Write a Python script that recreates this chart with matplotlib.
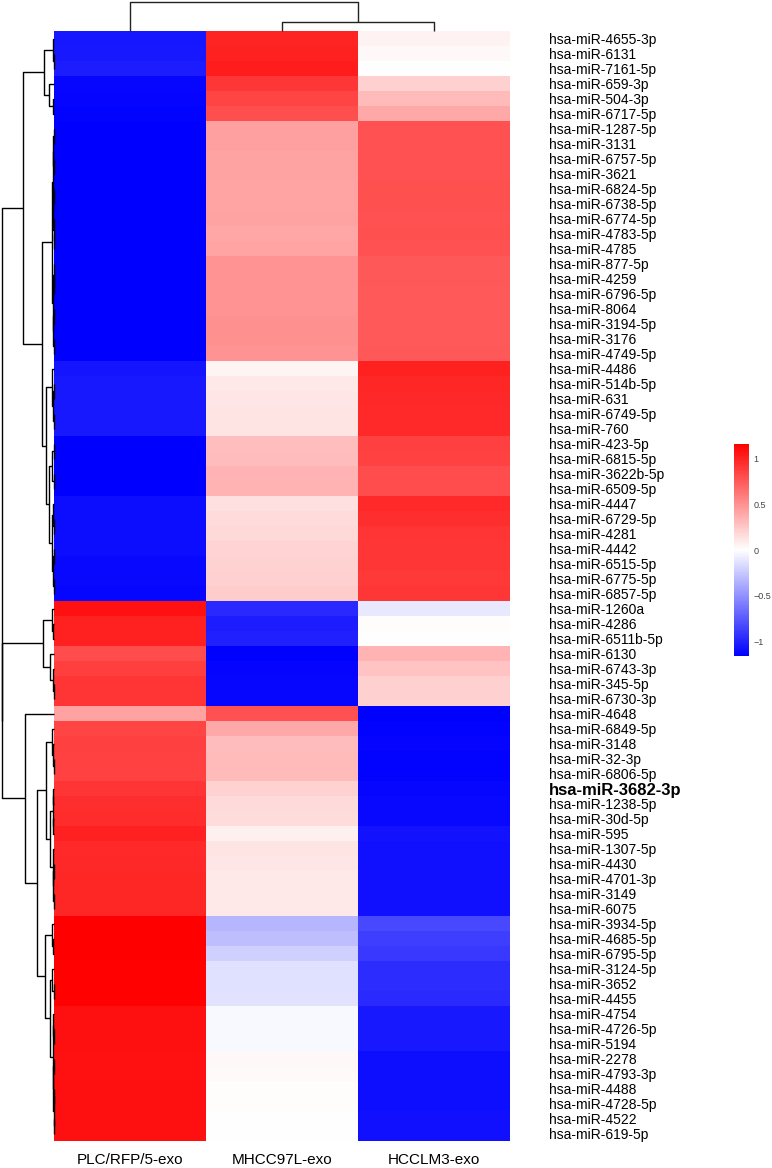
import numpy as np
import matplotlib
matplotlib.use("Agg")
import matplotlib.pyplot as plt
from matplotlib.colors import LinearSegmentedColormap

plt.rcParams['font.family'] = ['Liberation Sans', 'DejaVu Sans']

samples = ["PLC/RFP/5-exo", "MHCC97L-exo", "HCCLM3-exo"]

mirnas = [
    "hsa-miR-4655-3p", "hsa-miR-6131", "hsa-miR-7161-5p", "hsa-miR-659-3p",
    "hsa-miR-504-3p", "hsa-miR-6717-5p", "hsa-miR-1287-5p", "hsa-miR-3131",
    "hsa-miR-6757-5p", "hsa-miR-3621", "hsa-miR-6824-5p", "hsa-miR-6738-5p",
    "hsa-miR-6774-5p", "hsa-miR-4783-5p", "hsa-miR-4785", "hsa-miR-877-5p",
    "hsa-miR-4259", "hsa-miR-6796-5p", "hsa-miR-8064", "hsa-miR-3194-5p",
    "hsa-miR-3176", "hsa-miR-4749-5p", "hsa-miR-4486", "hsa-miR-514b-5p",
    "hsa-miR-631", "hsa-miR-6749-5p", "hsa-miR-760", "hsa-miR-423-5p",
    "hsa-miR-6815-5p", "hsa-miR-3622b-5p", "hsa-miR-6509-5p", "hsa-miR-4447",
    "hsa-miR-6729-5p", "hsa-miR-4281", "hsa-miR-4442", "hsa-miR-6515-5p",
    "hsa-miR-6775-5p", "hsa-miR-6857-5p", "hsa-miR-1260a", "hsa-miR-4286",
    "hsa-miR-6511b-5p", "hsa-miR-6130", "hsa-miR-6743-3p", "hsa-miR-345-5p",
    "hsa-miR-6730-3p", "hsa-miR-4648", "hsa-miR-6849-5p", "hsa-miR-3148",
    "hsa-miR-32-3p", "hsa-miR-6806-5p", "hsa-miR-3682-3p", "hsa-miR-1238-5p",
    "hsa-miR-30d-5p", "hsa-miR-595", "hsa-miR-1307-5p", "hsa-miR-4430",
    "hsa-miR-4701-3p", "hsa-miR-3149", "hsa-miR-6075", "hsa-miR-3934-5p",
    "hsa-miR-4685-5p", "hsa-miR-6795-5p", "hsa-miR-3124-5p", "hsa-miR-3652",
    "hsa-miR-4455", "hsa-miR-4754", "hsa-miR-4726-5p", "hsa-miR-5194",
    "hsa-miR-2278", "hsa-miR-4793-3p", "hsa-miR-4488", "hsa-miR-4728-5p",
    "hsa-miR-4522", "hsa-miR-619-5p",
]
highlight = "hsa-miR-3682-3p"

# row z-scores
plc = [-1.05, -1.04, -1.02, -1.12, -1.13, -1.14, -1.15, -1.15, -1.15, -1.15,
       -1.15, -1.15, -1.15, -1.15, -1.15, -1.15, -1.15, -1.15, -1.15, -1.15,
       -1.15, -1.15, -1.06, -1.04, -1.04, -1.04, -1.04, -1.15, -1.15, -1.15,
       -1.15, -1.10, -1.10, -1.10, -1.10, -1.11, -1.11, -1.12, 1.07, 1.01,
       1.01, 0.81, 0.87, 0.92, 0.92, 0.42, 0.84, 0.86, 0.85, 0.85,
       0.92, 0.94, 0.95, 1.00, 0.96, 0.97, 0.98, 0.98, 0.98, 1.15,
       1.15, 1.15, 1.14, 1.14, 1.14, 1.08, 1.08, 1.08, 1.07, 1.07,
       1.08, 1.08, 1.08, 1.08]
mhcc = [0.99, 1.01, 1.02, 0.91, 0.84, 0.80, 0.43, 0.43, 0.42, 0.42,
        0.41, 0.41, 0.42, 0.40, 0.41, 0.48, 0.48, 0.49, 0.49, 0.50,
        0.50, 0.48, 0.05, 0.10, 0.11, 0.12, 0.12, 0.29, 0.30, 0.34,
        0.34, 0.14, 0.16, 0.18, 0.19, 0.20, 0.21, 0.23, -0.97, -1.02,
        -1.01, -1.15, -1.13, -1.12, -1.12, 0.78, 0.39, 0.30, 0.31, 0.31,
        0.20, 0.17, 0.16, 0.07, 0.12, 0.11, 0.10, 0.10, 0.10, -0.33,
        -0.29, -0.21, -0.14, -0.14, -0.13, -0.03, -0.03, -0.03, 0.03, 0.02,
        0.01, 0.01, 0.00, 0.00]
hcclm3 = [0.06, 0.03, 0.00, 0.21, 0.31, 0.39, 0.78, 0.78, 0.78, 0.78,
          0.79, 0.79, 0.78, 0.79, 0.78, 0.75, 0.75, 0.74, 0.74, 0.74,
          0.74, 0.75, 1.01, 0.98, 0.97, 0.96, 0.96, 0.86, 0.85, 0.81,
          0.81, 0.96, 0.94, 0.92, 0.91, 0.91, 0.90, 0.91, -0.10, 0.01,
          0.00, 0.34, 0.27, 0.21, 0.21, -1.15, -1.14, -1.13, -1.14, -1.14,
          -1.12, -1.11, -1.11, -1.07, -1.08, -1.08, -1.08, -1.08, -1.08, -0.83,
          -0.87, -0.90, -0.95, -0.95, -0.96, -1.04, -1.04, -1.04, -1.09, -1.09,
          -1.09, -1.09, -1.08, -1.08]

# dendrograms as (height, left, right); leaves are row / column indices
row_tree = (52.4,
    (31,
        (10, (1, 0, (0.4, 1, 2)), (5, 3, (1, 4, 5))),
        (12,
            (2,
                (1.2, (0.6, (0.3, 6, 7), (0.4, 8, 9)),
                      (0.8, (0.3, 10, 11), (0.5, 12, (0.2, 13, 14)))),
                (1.0, (0.5, 15, (0.3, 16, 17)), (0.6, (0.3, 18, 19), (0.2, 20, 21)))),
            (8,
                (2, 22, (0.8, (0.3, 23, 24), (0.4, 25, 26))),
                (5, (2, (0.4, 27, 28), (0.5, 29, 30)),
                    (2, (0.7, 31, (0.3, 32, 33)), (0.8, (0.3, 34, 35), (0.4, 36, 37))))))),
    (52,
        (11, (2, 38, (0.8, 39, 40)), (4, 41, (1, 42, (0.5, 43, 44)))),
        (29, 45,
            (17,
                (8, (2, 46, (1, 47, (0.5, 48, 49))),
                    (4, (1.5, (0.6, 50, 51), (0.8, 52, 53)),
                        (1.5, 54, (0.6, (0.3, 55, 56), (0.4, 57, 58))))),
                (9, (2, 59, (0.8, 60, 61)),
                    (4, (2, 62, (0.5, 63, 64)),
                        (1.5, (0.6, 65, (0.3, 66, 67)),
                              (0.8, (0.4, 68, 69), (0.5, (0.2, 70, 71), (0.3, 72, 73))))))))))
col_tree = (29, 0, (9, 1, 2))


def draw_tree(ax, node, vertical):
    # returns (position, height); draws the U link for each inner node
    if not isinstance(node, tuple):
        return node, 0.0
    h, left, right = node
    p1, h1 = draw_tree(ax, left, vertical)
    p2, h2 = draw_tree(ax, right, vertical)
    if vertical:
        ax.plot([h1, h, h, h2], [p1, p1, p2, p2], color="black", lw=1.0,
                solid_capstyle="butt", clip_on=False)
    else:
        ax.plot([p1, p1, p2, p2], [h1, h, h, h2], color="#222222", lw=1.0,
                solid_capstyle="butt", clip_on=False)
    return (p1 + p2) / 2, h


data = np.array([plc, mhcc, hcclm3]).T
cmap = LinearSegmentedColormap.from_list("bwr2", ["#0000FF", "#FFFFFF", "#FF0000"])
vmax = 1.155

W, H = 772, 1168
fig = plt.figure(figsize=(W / 100, H / 100), dpi=100)


def box(x0, y0, x1, y1):
    return [x0 / W, 1 - y1 / H, (x1 - x0) / W, (y1 - y0) / H]


ax = fig.add_axes(box(54, 31, 510, 1141))
im = ax.imshow(data, aspect="auto", cmap=cmap, vmin=-vmax, vmax=vmax,
               interpolation="nearest")
for s in ax.spines.values():
    s.set_visible(False)
ax.yaxis.tick_right()
ax.set_yticks(range(len(mirnas)))
ax.set_yticklabels(mirnas, fontsize=10)
ax.set_xticks(range(len(samples)))
ax.set_xticklabels(samples, fontsize=11)
ax.tick_params(axis="y", length=0, pad=28)
ax.tick_params(axis="x", length=0, pad=9)
for t in ax.get_yticklabels():
    if t.get_text() == highlight:
        t.set_fontweight("bold")
        t.set_fontsize(12)

axr = fig.add_axes(box(0, 31, 54, 1141))
draw_tree(axr, row_tree, True)
axr.set_xlim(54, 0)
axr.set_ylim(len(mirnas) - 0.5, -0.5)
axr.axis("off")

axc = fig.add_axes(box(54, 0, 510, 31))
draw_tree(axc, col_tree, False)
axc.set_xlim(-0.5, len(samples) - 0.5)
axc.set_ylim(0, 31)
axc.axis("off")

cax = fig.add_axes(box(734, 444, 749, 656))
cb = fig.colorbar(im, cax=cax, ticks=[-1, -0.5, 0, 0.5, 1])
cb.outline.set_visible(False)
cb.ax.set_yticklabels(["\u22121", "\u22120.5", "0", "0.5", "1"])
cb.ax.tick_params(length=0, pad=3, labelsize=6.5, labelcolor="#444444")

fig.savefig("out.png", dpi=100)
